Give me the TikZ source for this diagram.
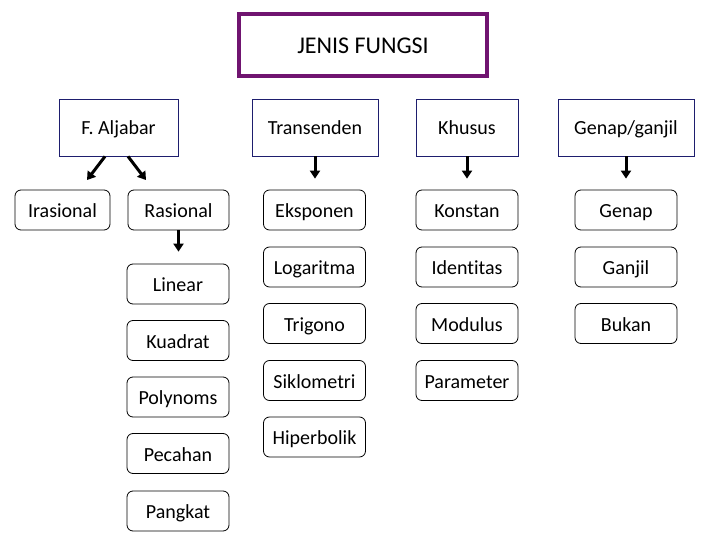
\documentclass[tikz,border=0pt]{standalone}
\usepackage{fontspec}
\setmainfont{Carlito}[Ligatures={NoCommon}]
\usetikzlibrary{arrows.meta}
\definecolor{titlepurple}{RGB}{112,20,112}
\definecolor{boxnavy}{RGB}{30,30,110}
\tikzset{
  x=1pt, y=-1pt,
  basetext/.style={font=\fontsize{20}{22}\selectfont, inner sep=0pt, align=center, text height=19pt, text depth=4pt},
  titlebox/.style={basetext, draw=titlepurple, line width=3.6pt, minimum width=248pt, minimum height=62pt, font=\fontsize{24}{27}\selectfont, text height=22pt, text depth=5.5pt},
  catbox/.style={basetext, draw=boxnavy, line width=0.8pt, minimum height=57pt},
  itembox/.style={basetext, draw=black, line width=0.8pt, rounded corners=6pt, minimum width=102pt, minimum height=40pt},
  arr/.style={line width=3pt, -{Triangle[length=8pt,width=10pt]}}
}
\begin{document}
\begin{tikzpicture}
\useasboundingbox (0,0) rectangle (720,540);
\node[titlebox] (title) at (363,45) {JENIS FUNGSI};

\node[catbox, minimum width=119pt] (aljabar) at (118.5,127.5) {F. Aljabar};
\node[catbox, minimum width=126pt] (transenden) at (315,127.5) {Transenden};
\node[catbox, minimum width=102pt] (khusus) at (467,127.5) {Khusus};
\node[catbox, minimum width=136pt] (genapganjil) at (626,127.5) {Genap/ganjil};

\node[itembox, minimum width=95pt] (irasional) at (62.5,210) {Irasional};
\node[itembox, minimum width=101pt] (rasional) at (178.5,210) {Rasional};
\node[itembox] (eksponen) at (314.5,210) {Eksponen};
\node[itembox] (konstan) at (467,210) {Konstan};
\node[itembox] (genap) at (626,210) {Genap};

\node[itembox] (linear) at (178,284) {Linear};
\node[itembox] (kuadrat) at (178,340.5) {Kuadrat};
\node[itembox] (polynoms) at (178,397) {Polynoms};
\node[itembox] (pecahan) at (178,453.5) {Pecahan};
\node[itembox] (pangkat) at (178,511) {Pangkat};

\node[itembox] (logaritma) at (314.5,267) {Logaritma};
\node[itembox] (trigono) at (314.5,323.5) {Trigono};
\node[itembox] (siklometri) at (314.5,380.5) {Siklometri};
\node[itembox] (hiperbolik) at (314.5,437) {Hiperbolik};

\node[itembox] (identitas) at (467,267) {Identitas};
\node[itembox] (modulus) at (467,323.5) {Modulus};
\node[itembox] (parameter) at (467,380.5) {Parameter};

\node[itembox] (ganjil) at (626,267) {Ganjil};
\node[itembox] (bukan) at (626,323.5) {Bukan};

\coordinate (iratip) at (87,180);
\coordinate (rastip) at (146,180);
\draw[arr] ([xshift=-13.5pt]aljabar.south) -- (iratip);
\draw[arr] ([xshift=9.5pt]aljabar.south) -- (rastip);
\draw[arr, shorten >=11pt] (transenden.south) -- (transenden.south |- eksponen.north);
\draw[arr, shorten >=11pt] (khusus.south) -- (konstan.north);
\draw[arr, shorten >=11pt] (genapganjil.south) -- (genap.north);
\draw[arr, shorten >=12pt] (rasional.south) -- (rasional.south |- linear.north);
\end{tikzpicture}
\end{document}
